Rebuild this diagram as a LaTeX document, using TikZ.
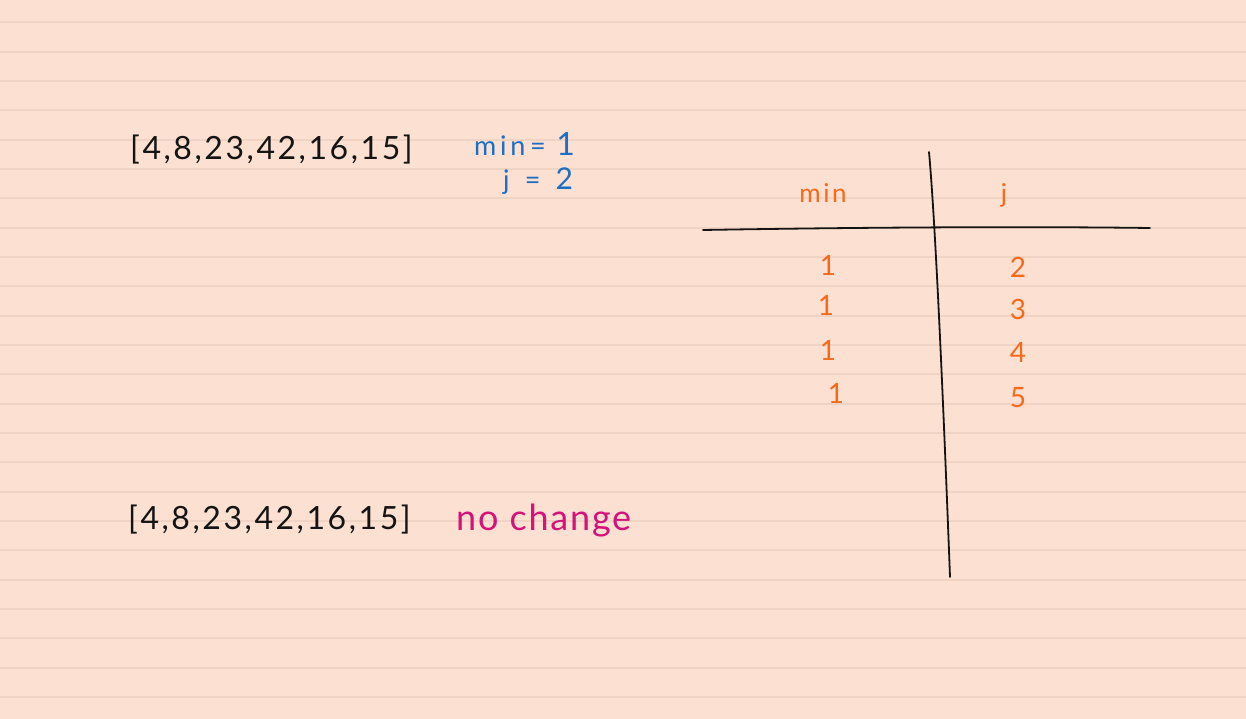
\documentclass[tikz,border=0pt]{standalone}
\usepackage{fontspec}
\setmainfont{Lato}
\definecolor{paper}{HTML}{FCE0D1}
\definecolor{rule}{HTML}{F1D3C4}
\definecolor{inkblack}{HTML}{141414}
\definecolor{inkblue}{HTML}{1C6FC4}
\definecolor{inkorange}{HTML}{F66A1C}
\definecolor{inkpink}{HTML}{D4127A}
\tikzset{
  arr/.style={text=inkblack, font=\fontsize{32}{32}\selectfont\addfontfeature{LetterSpace=8}, inner sep=0pt},
  note/.style={text=inkblue, font=\fontsize{27}{27}\selectfont\addfontfeature{LetterSpace=14}, inner sep=0pt},
  head/.style={text=inkorange, font=\fontsize{26}{26}\selectfont\addfontfeature{LetterSpace=10}, inner sep=0pt},
  val/.style={text=inkorange, font=\fontsize{28}{28}\selectfont, inner sep=0pt},
  remark/.style={text=inkpink, font=\fontsize{36}{36}\selectfont\addfontfeature{LetterSpace=5}, inner sep=0pt},
  ruled/.style={draw=rule, line width=2pt},
  pen/.style={draw=inkblack, line width=1.8pt, line cap=round},
}
\begin{document}
\begin{tikzpicture}[x=1pt,y=-1pt]
\useasboundingbox (0,0) rectangle (1246,719);
\fill[paper] (0,0) rectangle (1246,719);
\foreach \i in {0,...,23} {
  \draw[ruled] (0,{22.3+29.33*\i}) -- (1246,{22.3+29.33*\i});
}
% arrays
\node[arr, anchor=west] (a1) at (130,150) {[4,8,23,42,16,15]};
\node[arr, anchor=west] (a2) at (128,520) {[4,8,23,42,16,15]};
% notes
\node[note, anchor=west] (m1) at (474,144) {min\,= {\fontsize{32}{32}\selectfont 1}};
\node[note, anchor=west] (j1) at (503,181) {j\, = \,{\fontsize{30}{30}\selectfont 2}};
\node[remark, anchor=west] (nc) at (456,521) {no change};
% table lines
\coordinate (hl) at (703,230);
\coordinate (hr) at (1150,228);
\coordinate (vt) at (929,152);
\coordinate (vb) at (950,577);
\draw[pen] (hl) .. controls (820,228) and (1000,226) .. (hr);
\draw[pen] (vt) .. controls (936,230) and (944,420) .. (vb);
% headers
\node[head] (hmin) at (823,193) {min};
\node[head] (hj) at (1004,195) {j};
% values
\node[val] (m2) at (828,265) {1};
\node[val] (m3) at (826,305) {1};
\node[val] (m4) at (828,350) {1};
\node[val] (m5) at (836,393) {1};
\node[val] (j2) at (1018,267) {2};
\node[val] (j3) at (1018,309) {3};
\node[val] (j4) at (1018,352) {4};
\node[val] (j5) at (1018,398) {5};
\end{tikzpicture}
\end{document}
